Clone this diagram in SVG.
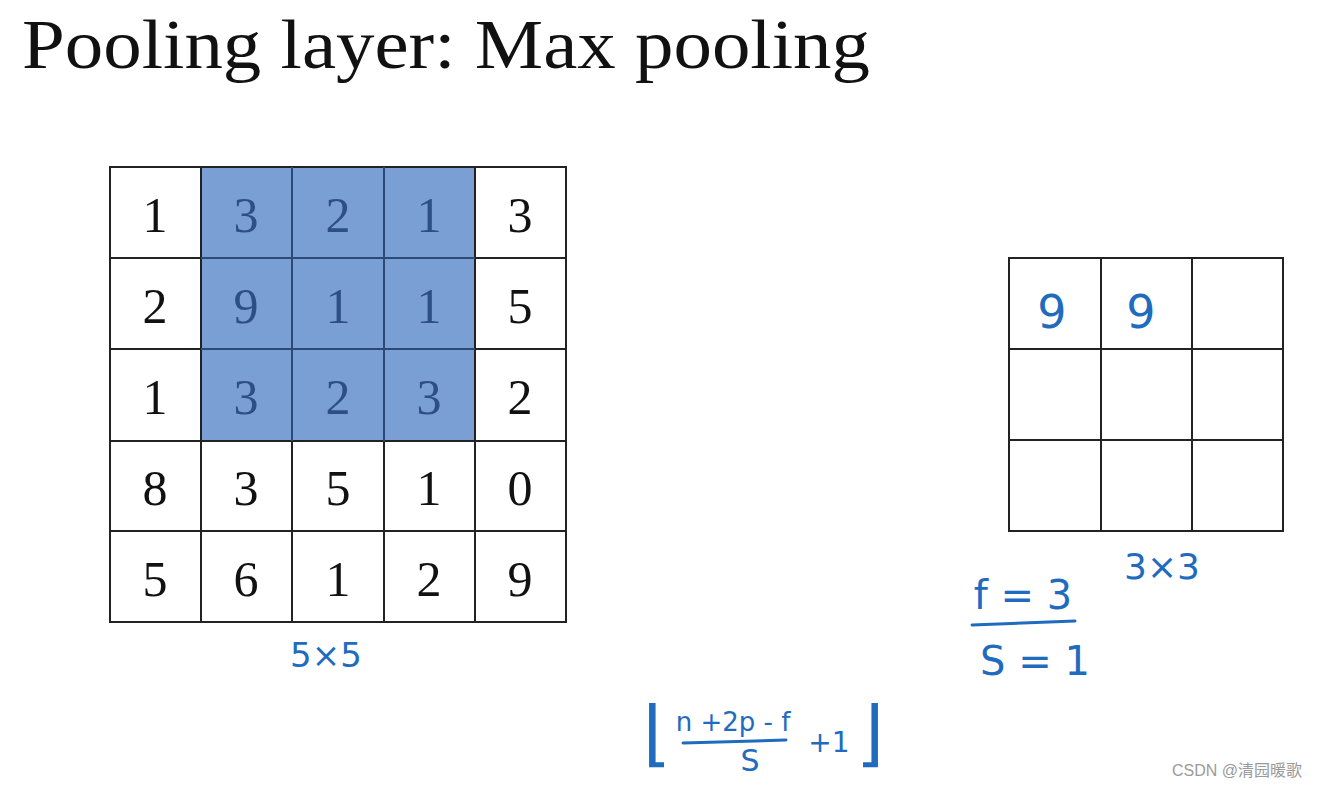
<svg xmlns="http://www.w3.org/2000/svg" width="1324" height="787" viewBox="0 0 1324 787">
<style>
.t{font-family:"Liberation Serif","DejaVu Serif",serif;fill:#111}
.num{font-family:"Liberation Serif","DejaVu Serif",serif;font-size:50px;text-anchor:middle;fill:#111}
.bnum{fill:#2c4f86}
.cell{fill:#fff;stroke:#222;stroke-width:2}
.hw{font-family:"DejaVu Sans","Liberation Sans",sans-serif;fill:#1f6bbd}
.hl{stroke:#1f6bbd;stroke-width:3;stroke-linecap:round;fill:none}
</style>
<rect width="1324" height="787" fill="#fff"/>
<text class="t" x="22" y="68" font-size="70" textLength="848" lengthAdjust="spacingAndGlyphs">Pooling layer: Max pooling</text>

<g id="input-grid">
<rect class="cell" x="110" y="167" width="456" height="455"/>
<rect x="201" y="167" width="274" height="274" fill="#7a9fd4"/>
<g stroke="#222" stroke-width="2">
<line x1="201" y1="441" x2="201" y2="622"/><line x1="292" y1="441" x2="292" y2="622"/><line x1="384" y1="441" x2="384" y2="622"/><line x1="475" y1="441" x2="475" y2="622"/>
<line x1="201" y1="167" x2="201" y2="441"/><line x1="475" y1="167" x2="475" y2="441"/>
<line x1="110" y1="258" x2="201" y2="258"/><line x1="110" y1="349" x2="201" y2="349"/><line x1="110" y1="441" x2="566" y2="441"/><line x1="110" y1="531" x2="566" y2="531"/>
<line x1="475" y1="258" x2="566" y2="258"/><line x1="475" y1="349" x2="566" y2="349"/>
<line x1="201" y1="167" x2="475" y2="167"/>
</g>
<g stroke="#2c4a78" stroke-width="2">
<line x1="292" y1="167" x2="292" y2="441"/><line x1="384" y1="167" x2="384" y2="441"/>
<line x1="201" y1="258" x2="475" y2="258"/><line x1="201" y1="349" x2="475" y2="349"/>
</g>
<text class="num" x="155" y="232">1</text><text class="num bnum" x="246" y="232">3</text><text class="num bnum" x="338" y="232">2</text><text class="num bnum" x="429" y="232">1</text><text class="num" x="520" y="232">3</text>
<text class="num" x="155" y="323">2</text><text class="num bnum" x="246" y="323">9</text><text class="num bnum" x="338" y="323">1</text><text class="num bnum" x="429" y="323">1</text><text class="num" x="520" y="323">5</text>
<text class="num" x="155" y="414">1</text><text class="num bnum" x="246" y="414">3</text><text class="num bnum" x="338" y="414">2</text><text class="num bnum" x="429" y="414">3</text><text class="num" x="520" y="414">2</text>
<text class="num" x="155" y="505">8</text><text class="num" x="246" y="505">3</text><text class="num" x="338" y="505">5</text><text class="num" x="429" y="505">1</text><text class="num" x="520" y="505">0</text>
<text class="num" x="155" y="596">5</text><text class="num" x="246" y="596">6</text><text class="num" x="338" y="596">1</text><text class="num" x="429" y="596">2</text><text class="num" x="520" y="596">9</text>
</g>

<g id="output-grid">
<rect class="cell" x="1009" y="258" width="274" height="273"/>
<g stroke="#222" stroke-width="2">
<line x1="1101" y1="258" x2="1101" y2="531"/><line x1="1192" y1="258" x2="1192" y2="531"/>
<line x1="1009" y1="349" x2="1283" y2="349"/><line x1="1009" y1="440" x2="1283" y2="440"/>
</g>
<text class="hw" x="1052" y="328" font-size="46" text-anchor="middle">9</text>
<text class="hw" x="1141" y="328" font-size="46" text-anchor="middle">9</text>
</g>

<g id="label-5x5"><text class="hw" x="326" y="667" font-size="34" text-anchor="middle">5×5</text></g>
<g id="label-3x3"><text class="hw" x="1162" y="579" font-size="36" text-anchor="middle">3×3</text></g>

<g id="params">
<text class="hw" x="1023" y="609" font-size="40" text-anchor="middle">f = 3</text>
<path class="hl" d="M972 625 L1075 621"/>
<text class="hw" x="1035" y="675" font-size="40" text-anchor="middle">S = 1</text>
</g>

<g id="formula">
<text class="hw" x="657" y="758" font-size="72" text-anchor="middle">⌊</text>
<text class="hw" x="733" y="731" font-size="26" text-anchor="middle">n +2p - f</text>
<path class="hl" d="M683 743 L786 740"/>
<text class="hw" x="750" y="771" font-size="30" text-anchor="middle">S</text>
<text class="hw" x="829" y="752" font-size="28" text-anchor="middle">+1</text>
<text class="hw" x="870" y="758" font-size="72" text-anchor="middle">⌋</text>
</g>

<text x="1172" y="776" font-family="'Liberation Sans','Noto Sans CJK SC',sans-serif" font-size="16" fill="#9a9a9a">CSDN @清园暖歌</text>
</svg>
